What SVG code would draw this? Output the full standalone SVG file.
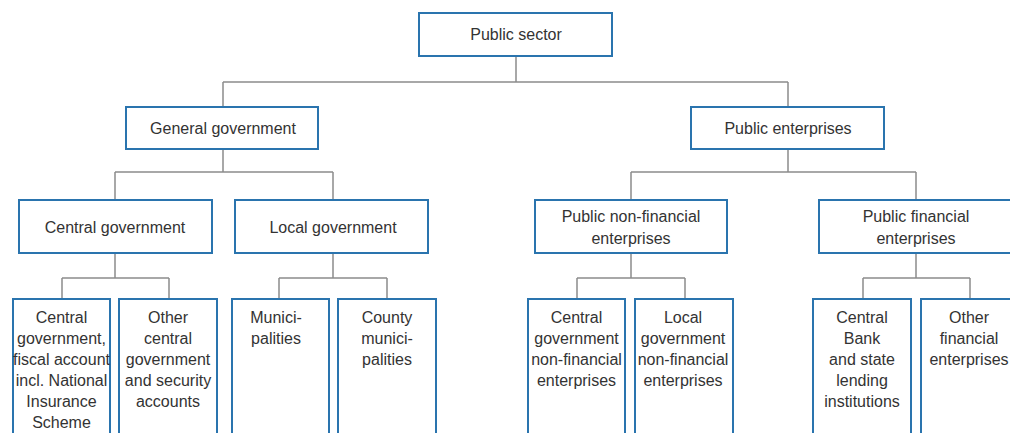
<svg xmlns="http://www.w3.org/2000/svg" width="1010" height="433" viewBox="0 0 1010 433">
<style>
.box{fill:#fff;stroke:#2a74ae;stroke-width:2}
.t{font-family:"Liberation Sans",Arial,sans-serif;font-size:16px;fill:#333;text-anchor:middle}
.c{fill:none;stroke:#8c8c8c;stroke-width:1.5}
</style>
<rect width="1010" height="433" fill="#fff"/>
<g id="connectors">
<path class="c" d="M516 56V82M223 82H788M223 82V107M788 82V107"/>
<path class="c" d="M223 149V172M115 172H333M115 172V200M333 172V200"/>
<path class="c" d="M788 149V172M631 172H916M631 172V200M916 172V200"/>
<path class="c" d="M115 253V278M62 278H169M62 278V299M169 278V299"/>
<path class="c" d="M333 253V278M279 278H387M279 278V299M387 278V299"/>
<path class="c" d="M631 253V278M577 278H685M577 278V299M685 278V299"/>
<path class="c" d="M916 253V278M863 278H970M863 278V299M970 278V299"/>
</g>
<g id="public-sector"><rect class="box" x="419" y="13" width="193" height="43"/><text class="t" x="516" y="40">Public sector</text></g>
<g id="general-government"><rect class="box" x="126" y="107" width="192" height="42"/><text class="t" x="223" y="134">General government</text></g>
<g id="public-enterprises"><rect class="box" x="691" y="107" width="193" height="42"/><text class="t" x="788" y="134">Public enterprises</text></g>
<g id="central-government"><rect class="box" x="19" y="200" width="193" height="53"/><text class="t" x="115" y="233">Central government</text></g>
<g id="local-government"><rect class="box" x="235" y="200" width="193" height="53"/><text class="t" x="333" y="233">Local government</text></g>
<g id="public-non-financial"><rect class="box" x="535" y="200" width="192" height="53"/><text class="t" x="631" y="222">Public non-financial</text><text class="t" x="631" y="244">enterprises</text></g>
<g id="public-financial"><rect class="box" x="819" y="200" width="194" height="53"/><text class="t" x="916" y="222">Public financial</text><text class="t" x="916" y="244">enterprises</text></g>
<g id="cg-fiscal"><rect class="box" x="13" y="299" width="97" height="140"/><text class="t" x="61.5" y="323">Central</text><text class="t" x="61.5" y="344">government,</text><text class="t" x="61.5" y="365">fiscal account</text><text class="t" x="61.5" y="386">incl. National</text><text class="t" x="61.5" y="407">Insurance</text><text class="t" x="61.5" y="428">Scheme</text></g>
<g id="other-cg"><rect class="box" x="119" y="299" width="98" height="140"/><text class="t" x="168" y="323">Other</text><text class="t" x="168" y="344">central</text><text class="t" x="168" y="365">government</text><text class="t" x="168" y="386">and security</text><text class="t" x="168" y="407">accounts</text></g>
<g id="municipalities"><rect class="box" x="232" y="299" width="97" height="140"/><text class="t" x="276" y="323">Munici-</text><text class="t" x="276" y="344">palities</text></g>
<g id="county-municipalities"><rect class="box" x="338" y="299" width="98" height="140"/><text class="t" x="387" y="323">County</text><text class="t" x="387" y="344">munici-</text><text class="t" x="387" y="365">palities</text></g>
<g id="cg-nonfin"><rect class="box" x="528" y="299" width="97" height="140"/><text class="t" x="576.5" y="323">Central</text><text class="t" x="576.5" y="344">government</text><text class="t" x="576.5" y="365">non-financial</text><text class="t" x="576.5" y="386">enterprises</text></g>
<g id="lg-nonfin"><rect class="box" x="635" y="299" width="98" height="140"/><text class="t" x="683" y="323">Local</text><text class="t" x="683" y="344">government</text><text class="t" x="683" y="365">non-financial</text><text class="t" x="683" y="386">enterprises</text></g>
<g id="central-bank"><rect class="box" x="813" y="299" width="98" height="140"/><text class="t" x="862" y="323">Central</text><text class="t" x="862" y="344">Bank</text><text class="t" x="862" y="365">and state</text><text class="t" x="862" y="386">lending</text><text class="t" x="862" y="407">institutions</text></g>
<g id="other-financial"><rect class="box" x="921" y="299" width="98" height="140"/><text class="t" x="969" y="323">Other</text><text class="t" x="969" y="344">financial</text><text class="t" x="969" y="365">enterprises</text></g>
</svg>
